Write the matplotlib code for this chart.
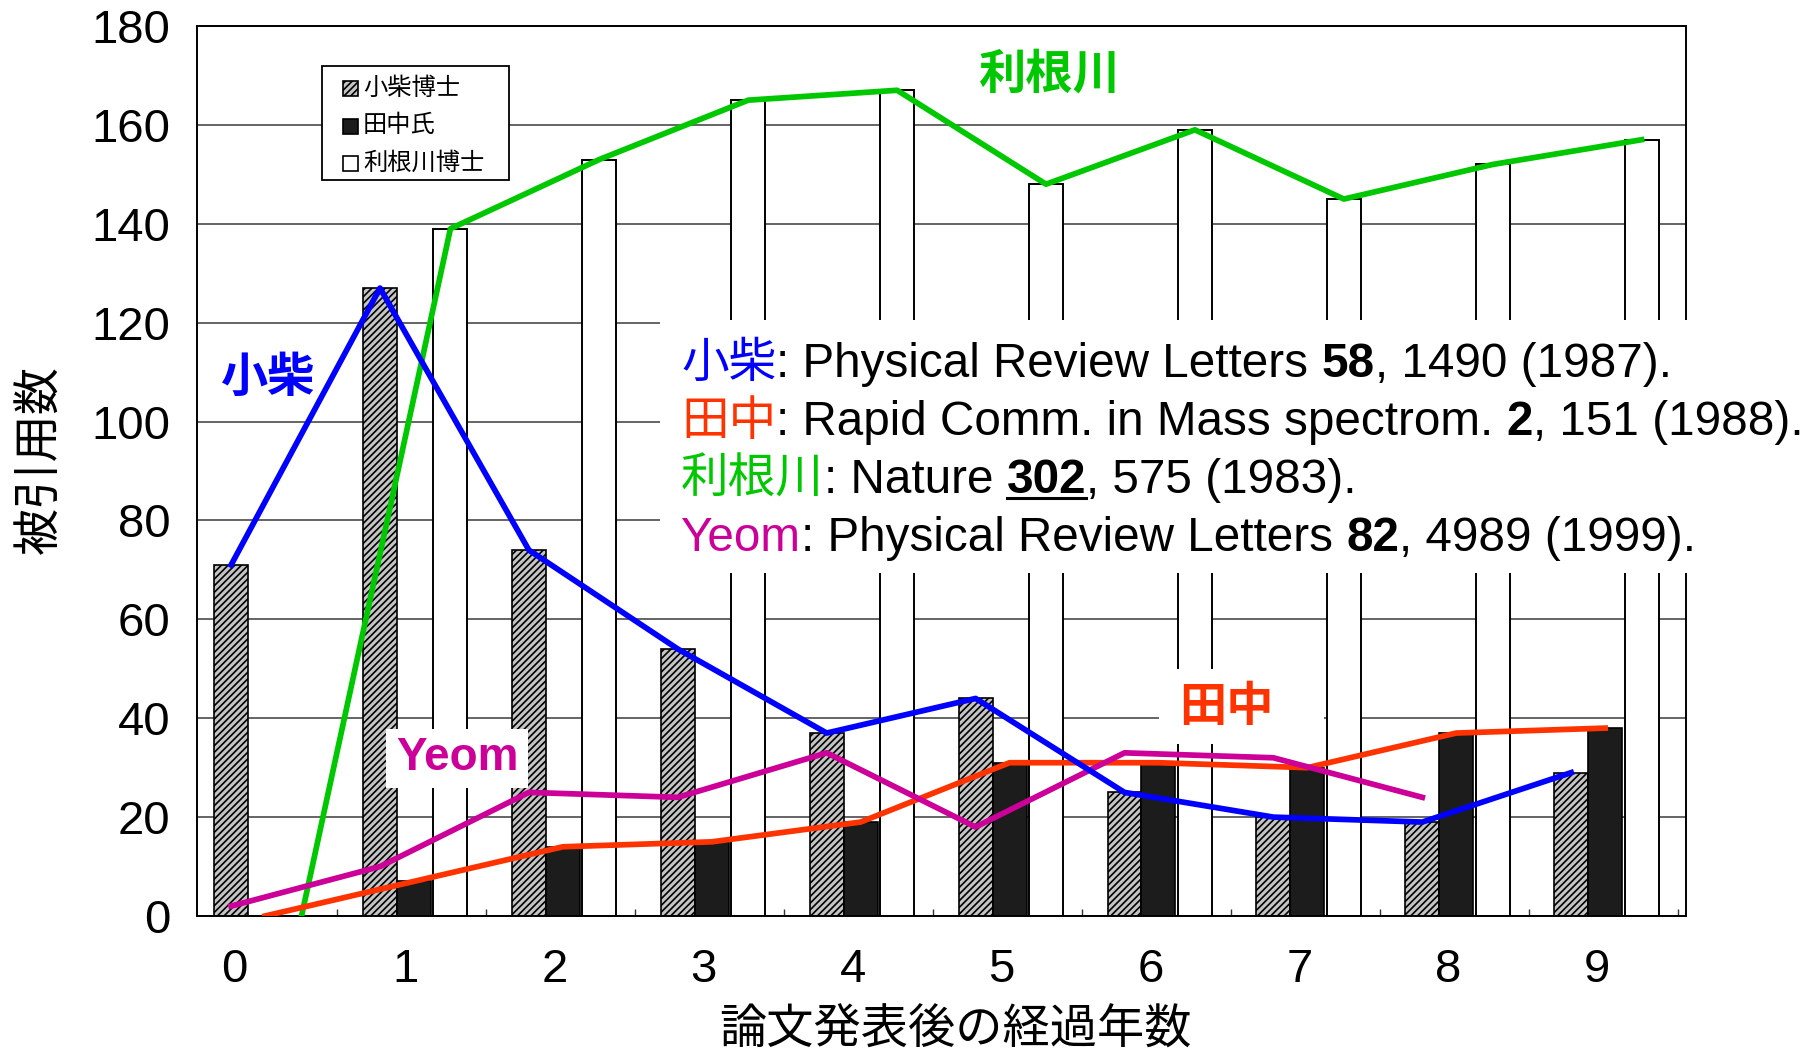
import matplotlib
matplotlib.use('Agg')
import matplotlib.pyplot as plt
from matplotlib.patches import Rectangle
from matplotlib.lines import Line2D
import numpy as np

# citations per year after publication
years = list(range(10))
koshiba = [71, 127, 74, 54, 37, 44, 25, 20, 19, 29]
tanaka = [0, 7, 14, 15, 19, 31, 31, 30, 37, 38]
tonegawa = [0, 139, 153, 165, 167, 148, 159, 145, 152, 157]
yeom = [2, 10, 25, 24, 33, 18, 33, 32, 24]
y_ticks = [0, 20, 40, 60, 80, 100, 120, 140, 160, 180]
legend_labels = ['小柴博士', '田中氏', '利根川博士']

BLUE = '#0000ff'
RED = '#ff3300'
GREEN = '#00c800'
MAGENTA = '#cc0099'
HATCH_FACE = '#c4c4c4'

JP = 'Noto Sans CJK JP'
LAT = 'Liberation Sans'
plt.rcParams['font.family'] = [LAT, JP]
plt.rcParams['hatch.linewidth'] = 1.2

W, H = 1809, 1053
fig = plt.figure(figsize=(W / 100, H / 100), dpi=100)
fig.patch.set_facecolor('white')
ax = fig.add_axes([197 / W, 1 - 916 / H, (1686 - 197) / W, (916 - 26) / H])

x = np.arange(len(years))
w = 0.228
gap = 0.017

ax.bar(x - w / 2, koshiba, w, facecolor=HATCH_FACE, edgecolor='black', hatch='/////', linewidth=1.2, zorder=2)
ax.bar(x + w / 2, tanaka, w, facecolor='#1c1c1c', edgecolor='black', linewidth=1.2, zorder=2)
ax.bar(x + 1.5 * w + gap, tonegawa, w, facecolor='white', edgecolor='black', linewidth=1.4, zorder=2)

# hand-drawn colour overlays
ax.plot(x + 1.5 * w + gap, tonegawa, color=GREEN, lw=4.1, zorder=4)
ax.plot(x + w / 2, tanaka, color=RED, lw=4.1, zorder=4)
ax.plot(x[:len(yeom)] - w / 2, yeom, color=MAGENTA, lw=4.1, zorder=4)
ax.plot(x - w / 2, koshiba, color=BLUE, lw=4.1, zorder=5)

ax.set_xlim(-0.343, 9.657)
ax.set_ylim(0, 180)
ax.set_yticks(y_ticks)
tick_pos = x + 0.06
tick_pos[0] -= 0.15
ax.set_xticks(tick_pos)
ax.set_xticklabels([str(v) for v in years])
ax.set_xticks(x + 0.6, minor=True)
ax.tick_params(axis='both', which='major', length=0, labelsize=34)
ax.tick_params(axis='y', pad=19)
ax.tick_params(axis='x', pad=23)
ax.tick_params(axis='x', which='minor', direction='in', length=5, width=1, color='#333333')
ax.yaxis.grid(True, color='#4a4a4a', lw=1.2, zorder=1)
ax.set_axisbelow(True)
for s in ax.spines.values():
    s.set_linewidth(1.4)

# legend box of the original scan, drawn by hand in figure pixels
fig.add_artist(Rectangle((322 / W, 1 - 180 / H), 187 / W, 114 / H, transform=fig.transFigure,
                         facecolor='white', edgecolor='black', lw=1.3, zorder=3))
legend_styles = [dict(facecolor=HATCH_FACE, hatch='/////'), dict(facecolor='#1c1c1c'), dict(facecolor='white')]
for i, (lab, sty) in enumerate(zip(legend_labels, legend_styles)):
    yc = 88 + 37.5 * i
    fig.add_artist(Rectangle((343 / W, 1 - (yc + 8) / H), 15 / W, 15 / H, transform=fig.transFigure,
                             edgecolor='black', lw=1.2, zorder=4, **sty))
    fig.text(363 / W, 1 - yc / H, lab, fontsize=17.5, family=JP, ha='left', va='center', zorder=4)

# axis titles
fig.text(40 / W, 1 - 460 / H, '被引用数', rotation=90, fontsize=34, family=JP, ha='center', va='center')
fig.text(955 / W, 1 - 1030 / H, '論文発表後の経過年数', fontsize=34, family=JP, ha='center', va='center')

# colored name labels
fig.text(1050 / W, 1 - 74 / H, '利根川', color=GREEN, fontsize=34, fontweight='bold', family=JP,
         ha='center', va='center', zorder=7)
fig.text(268 / W, 1 - 378 / H, '小柴', color=BLUE, fontsize=34, fontweight='bold', family=JP,
         ha='center', va='center', zorder=7)
fig.add_artist(Rectangle((386 / W, 1 - 788 / H), 142 / W, 59 / H, transform=fig.transFigure,
                         facecolor='white', edgecolor='none', zorder=6))
fig.text(457 / W, 1 - 758 / H, 'Yeom', color=MAGENTA, fontsize=33, fontweight='bold', family=LAT,
         ha='center', va='center', zorder=7)
fig.add_artist(Rectangle((1159 / W, 1 - 744 / H), 165 / W, 75 / H, transform=fig.transFigure,
                         facecolor='white', edgecolor='none', zorder=6))
fig.text(1226 / W, 1 - 707 / H, '田中', color=RED, fontsize=34, fontweight='bold', family=JP,
         ha='center', va='center', zorder=7)

# citation block
fig.add_artist(Rectangle((660 / W, 1 - 573 / H), (W - 660) / W, 253 / H, transform=fig.transFigure,
                         facecolor='white', edgecolor='none', zorder=6))

renderer = fig.canvas.get_renderer()


def run_width(s, **kw):
    t = fig.text(0, 0, s + '|', **kw)
    b = fig.text(0, 0, '|', **kw)
    wpx = t.get_window_extent(renderer).width - b.get_window_extent(renderer).width
    t.remove()
    b.remove()
    return wpx


citations = [
    [('小柴', BLUE, JP, 'normal', False), (': Physical Review Letters ', 'black', LAT, 'normal', False),
     ('58', 'black', LAT, 'bold', False), (', 1490 (1987).', 'black', LAT, 'normal', False)],
    [('田中', RED, JP, 'normal', False), (': Rapid Comm. in Mass spectrom. ', 'black', LAT, 'normal', False),
     ('2', 'black', LAT, 'bold', False), (', 151 (1988).', 'black', LAT, 'normal', False)],
    [('利根川', GREEN, JP, 'normal', False), (': Nature ', 'black', LAT, 'normal', False),
     ('302', 'black', LAT, 'bold', True), (', 575 (1983).', 'black', LAT, 'normal', False)],
    [('Yeom', MAGENTA, LAT, 'normal', False), (': Physical Review Letters ', 'black', LAT, 'normal', False),
     ('82', 'black', LAT, 'bold', False), (', 4989 (1999).', 'black', LAT, 'normal', False)],
]
baselines = [377, 435, 493, 551]
for row, base in zip(citations, baselines):
    xpx = 681
    for txt, col, fam, wt, under in row:
        kw = dict(fontsize=34.3, family=fam, fontweight=wt, color=col, va='baseline', ha='left', zorder=7)
        fig.text(xpx / W, 1 - base / H, txt, **kw)
        wpx = run_width(txt, **kw)
        if under:
            fig.add_artist(Line2D([xpx / W, (xpx + wpx) / W], [1 - (base + 5) / H] * 2,
                                  transform=fig.transFigure, color='black', lw=2.2, zorder=7))
        xpx += wpx

fig.savefig('out.png', dpi=100, facecolor='white')
